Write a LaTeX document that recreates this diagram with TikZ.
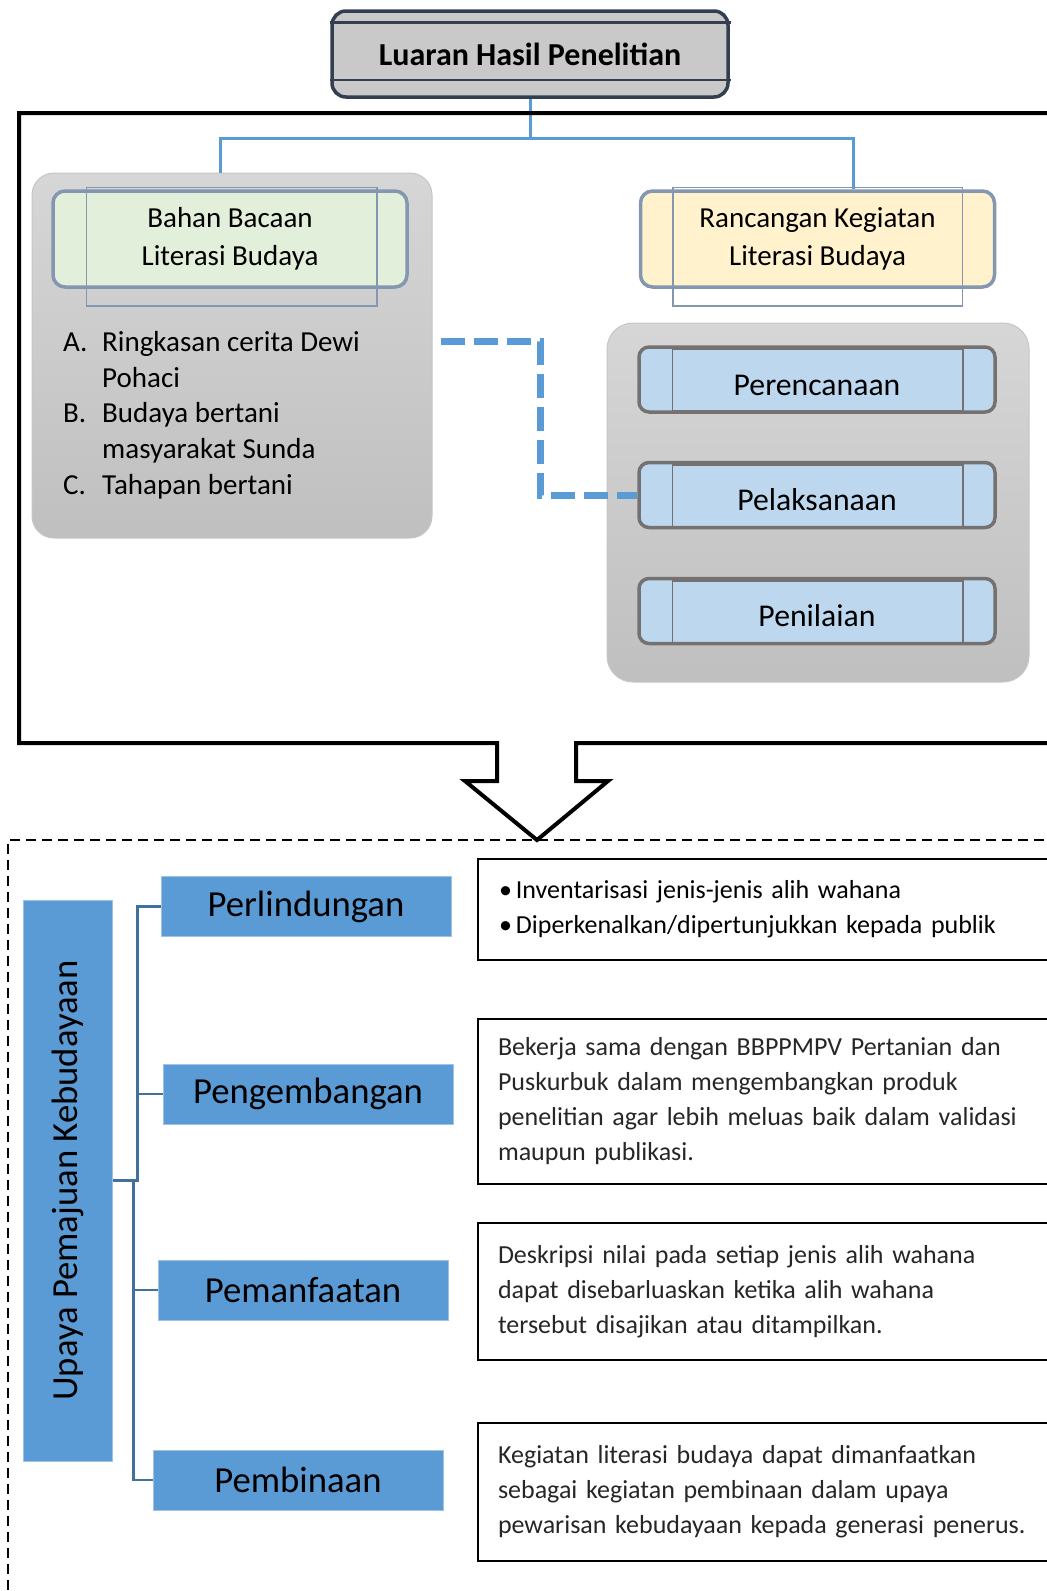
\documentclass[tikz,border=0pt]{standalone}
\usepackage{fontspec}
\setmainfont{Carlito}
\definecolor{linkblue}{HTML}{5B9BD5}
\definecolor{stepfill}{HTML}{BDD7EE}
\definecolor{stepline}{HTML}{767171}
\definecolor{greenfill}{HTML}{E2EFDA}
\definecolor{yellowfill}{HTML}{FFF2CC}
\definecolor{softline}{HTML}{8497B0}
\definecolor{titleline}{HTML}{333F50}
\definecolor{titlefill}{HTML}{C9C9C9}
\definecolor{bracketblue}{HTML}{41719C}
\definecolor{textgray}{HTML}{262626}
\begin{document}
\begin{tikzpicture}[x=1pt,y=-1pt,
        panel/.style={draw=gray!45,line width=1pt,top color=gray!32,bottom color=gray!50},
        bookbox/.style={draw=softline,line width=3.5pt,rounded corners=12pt,minimum width=354pt,minimum height=96pt,align=center,font=\fontsize{29}{38}\selectfont},
        innerline/.style={draw=softline,line width=1.5pt},
        stepbox/.style={draw=stepline,line width=3.5pt,fill=stepfill,rounded corners=10pt,minimum width=356pt,minimum height=65pt,text height=31pt,text depth=0pt,font=\fontsize{31.7}{38}\selectfont},
        catbox/.style={fill=linkblue,draw=linkblue!60!white,line width=1pt,minimum width=290pt,minimum height=60pt,font=\fontsize{36.7}{40}\selectfont},
        infobox/.style={draw=black,line width=2pt,anchor=north west,minimum width=640pt,text width=600pt,inner xsep=20pt,align=left,text=textgray,font=\fontsize{26}{35}\selectfont},
        link/.style={draw=linkblue,line width=3pt},
        dashlink/.style={draw=linkblue,line width=7pt,dash pattern=on 24pt off 9pt},
        bracket/.style={draw=bracketblue,line width=2.5pt}]
    \useasboundingbox (0,0) rectangle (1047,1591);
    \clip (0,0) rectangle (1047,1591);
    % upper part
    \node[draw=titleline,line width=3.5pt,fill=titlefill,rounded corners=14pt,minimum width=396pt,minimum height=86pt,font=\fontsize{32}{38}\selectfont\bfseries] (title) at (530,54) {Luaran Hasil Penelitian};
    \draw[titleline,line width=2.5pt] ([yshift=-13pt]title.north west) -- ([yshift=-13pt,xshift=1pt]title.north east);
    \draw[titleline,line width=2.5pt] ([yshift=19pt]title.south west) -- ([yshift=19pt,xshift=1pt]title.south east);
    \node[panel,rounded corners=22pt,minimum width=400pt,minimum height=365pt] (panelL) at (232,355.5) {};
    \node[panel,rounded corners=26pt,minimum width=422pt,minimum height=359pt] (panelR) at (818,502.5) {};
    \draw[link] (title.south) -- ++(0,40) -| ([xshift=-12pt]panelL.north);
    \draw[link] (title.south) -- ++(0,40) -| (853,189);
    \node[bookbox,fill=greenfill] (bahan) at (230,239) {Bahan Bacaan\\Literasi Budaya};
    \draw[innerline] ([xshift=35pt,yshift=2pt]bahan.north west) rectangle ([xshift=-32pt,yshift=-17pt]bahan.south east);
    \node[bookbox,fill=yellowfill] (rancangan) at (817.5,239) {Rancangan Kegiatan\\Literasi Budaya};
    \draw[innerline] ([xshift=34pt,yshift=2pt]rancangan.north west) rectangle ([xshift=-34pt,yshift=-17pt]rancangan.south east);
    \node[anchor=west,align=left,inner sep=0pt,font=\fontsize{29}{35.7}\selectfont] (liste) at (63,415) {\makebox[39pt][l]{A.}Ringkasan cerita Dewi\\\hspace*{39pt}Pohaci\\\makebox[39pt][l]{B.}Budaya bertani\\\hspace*{39pt}masyarakat Sunda\\\makebox[39pt][l]{C.}Tahapan bertani};
    \node[stepbox] (rencana) at (817,379.5) {Perencanaan};
    \node[stepbox] (laksana) at (817,495) {Pelaksanaan};
    \node[stepbox] (nilai) at (817,611) {Penilaian};
    \foreach \s in {rencana,laksana,nilai}
        \draw[stepline,line width=1.5pt] ([xshift=35pt,yshift=-4pt]\s.north west) rectangle ([xshift=-34pt,yshift=3pt]\s.south east);
    \draw[dashlink] ([xshift=8pt,yshift=14pt]panelL.east) -- ++(100,0) |- (laksana.west);
    % frame with arrow
    \draw[line width=4pt] (1060,113) -- (19,113) -- (19,743) -- (497,743) -- (497,781) -- (465,781) -- (537,840) -- (608,781) -- (576,781) -- (576,743) -- (1060,743);
    \draw[line width=1.6pt,dash pattern=on 10pt off 6pt] (1060,840) -| (8,1600);
    % lower part
    \node[catbox,rotate=90,minimum width=561pt,minimum height=89pt] (upaya) at (67.5,1180.5) {Upaya Pemajuan Kebudayaan};
    \node[catbox] (lindung) at (306,906.5) {Perlindungan};
    \node[catbox] (kembang) at (308,1094) {Pengembangan};
    \node[catbox] (manfaat) at (303,1290) {Pemanfaatan};
    \node[catbox] (bina) at (298,1480) {Pembinaan};
    \draw[bracket] (upaya.south) -- ++(25,0) |- (lindung.west);
    \draw[bracket] (upaya.south) ++(25,0) |- (kembang.west);
    \draw[bracket] (upaya.south) ++(21,0) |- (manfaat.west);
    \draw[bracket] (upaya.south) ++(21,0) |- (bina.west);
    \node[infobox,minimum height=101pt,text=black] (info1) at (477,858) {\hspace*{1pt}•\hspace{4pt}Inventarisasi jenis-jenis alih wahana\\\hspace*{1pt}•\hspace{4pt}Diperkenalkan/dipertunjukkan kepada publik};
    \node[infobox,minimum height=165pt] (info2) at (477,1018) {Bekerja sama dengan BBPPMPV Pertanian dan\\Puskurbuk dalam mengembangkan produk\\penelitian agar lebih meluas baik dalam validasi\\maupun publikasi.};
    \node[infobox,minimum height=137pt] (info3) at (477,1222) {Deskripsi nilai pada setiap jenis alih wahana\\dapat disebarluaskan ketika alih wahana\\tersebut disajikan atau ditampilkan.};
    \node[infobox,minimum height=138pt] (info4) at (477,1422) {Kegiatan literasi budaya dapat dimanfaatkan\\sebagai kegiatan pembinaan dalam upaya\\pewarisan kebudayaan kepada generasi penerus.};
\end{tikzpicture}
\end{document}
